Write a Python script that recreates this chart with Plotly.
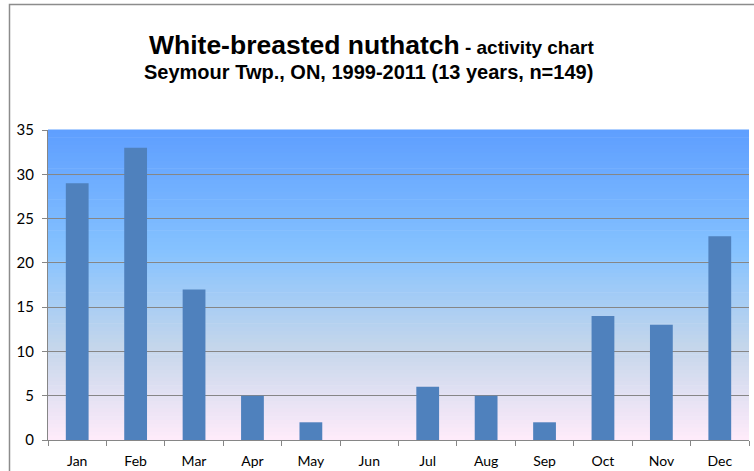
import plotly.graph_objects as go

months = ["Jan", "Feb", "Mar", "Apr", "May", "Jun", "Jul", "Aug", "Sep", "Oct", "Nov", "Dec"]
counts = [29, 33, 17, 5, 2, 0, 6, 5, 2, 14, 13, 23]
y_ticks = [0, 5, 10, 15, 20, 25, 30, 35]

# Excel "Daybreak" style gradient stops (position from top, rgb)
grad_stops = [(0.0, (94, 158, 255)), (0.39, (133, 194, 255)), (0.70, (196, 214, 235)), (1.0, (255, 235, 250))]

def grad_color(t):
    for (p0, c0), (p1, c1) in zip(grad_stops[:-1], grad_stops[1:]):
        if p0 <= t <= p1:
            f = (t - p0) / (p1 - p0) if p1 > p0 else 0
            c = [round(a + (b - a) * f) for a, b in zip(c0, c1)]
            return "rgb(%d,%d,%d)" % tuple(c)
    return "rgb(%d,%d,%d)" % grad_stops[-1][1]

shapes = []
n_strips = 80
for i in range(n_strips):
    t = (i + 0.5) / n_strips
    shapes.append(dict(type="rect", xref="x domain", yref="y domain",
                       x0=0, x1=1, y0=1 - (i + 1) / n_strips, y1=1 - i / n_strips + 0.002,
                       fillcolor=grad_color(t), line=dict(width=0), layer="below"))

# outer chart border (only top-left corner visible in the frame)
bx = -38.5 / 701
by_top = (440 - 4.5) / 310
shapes.append(dict(type="path", xref="paper", yref="paper",
                   path="M %f,%f L %f,%f L %f,%f" % (bx, -0.1, bx, by_top, 1.02, by_top),
                   line=dict(color="#8c8c8c", width=1.5), layer="above"))

fig = go.Figure()
fig.add_trace(go.Bar(x=months, y=counts, marker=dict(color="#4F81BD", line=dict(width=0)),
                     width=0.39, hoverinfo="skip"))

fig.update_layout(
    width=770, height=471,
    margin=dict(l=48, r=21, t=130, b=31, autoexpand=False),
    paper_bgcolor="white",
    plot_bgcolor="rgba(0,0,0,0)",
    shapes=shapes,
    showlegend=False,
    font=dict(family="Lato, Open Sans, sans-serif", size=14, color="black"),
    annotations=[
        dict(xref="paper", yref="paper", x=0.4615, y=(440 - 45) / 310, xanchor="center", yanchor="middle",
             text="<b>White-breasted nuthatch</b><b><span style='font-size:19px'> - activity chart</span></b>",
             showarrow=False, font=dict(family="Liberation Sans, Arial", size=26.5, color="black")),
        dict(xref="paper", yref="paper", x=0.457, y=(440 - 71.5) / 310, xanchor="center", yanchor="middle",
             text="<b>Seymour Twp., ON, 1999-2011 (13 years, n=149)</b>",
             showarrow=False, font=dict(family="Liberation Sans, Arial", size=20, color="black")),
    ],
)

fig.update_xaxes(type="category", showgrid=False, ticks="outside", tickson="boundaries",
                 ticklen=5, tickcolor="#868686", showline=True, linecolor="#868686", linewidth=1,
                 ticklabelstandoff=8, automargin=False,
                 tickfont=dict(family="Lato, sans-serif", size=14))
fig.update_yaxes(range=[0, 35], tickvals=y_ticks, showgrid=True, gridcolor="#868686", gridwidth=1,
                 ticks="outside", ticklen=5, tickcolor="#868686", showline=True, linecolor="#868686",
                 ticklabelstandoff=5, automargin=False,
                 zeroline=False, tickfont=dict(family="Lato, sans-serif", size=15))

fig.write_html("out.html", config={"displayModeBar": False},
               post_script="document.body.style.margin='0';document.body.style.overflow='hidden';"
                           "document.documentElement.style.overflow='hidden';")
